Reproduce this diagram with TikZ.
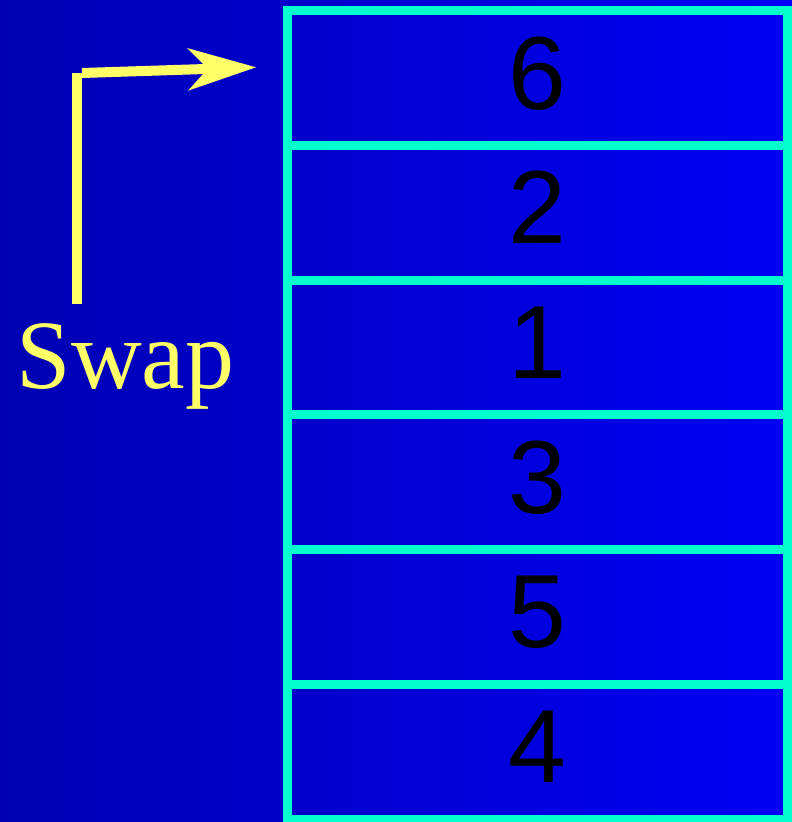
\documentclass[tikz,border=0pt]{standalone}
\usepackage{fontspec}
\newfontfamily\armain{Liberation Sans}
\newfontfamily\tmain{Liberation Serif}
\definecolor{bgL}{RGB}{0,0,178}
\definecolor{bgR}{RGB}{0,0,245}
\definecolor{cellline}{RGB}{0,255,204}
\definecolor{swapyellow}{RGB}{255,255,102}
\begin{document}
\begin{tikzpicture}[x=1pt,y=-1pt,
  cell/.style={draw=cellline, line width=9pt, minimum width=500pt, minimum height=134.75pt,
    inner sep=0pt, text depth=10pt, font=\armain\fontsize{104}{104}\selectfont, text=black},
  yline/.style={draw=swapyellow, line width=10pt}]
\shade[left color=bgL, right color=bgR] (0,0) rectangle (792,822);
\useasboundingbox (0,0) rectangle (792,822);
\node[cell] (c6) at (537,77.875) {6};
\node[cell] (c2) at (537,212.625) {2};
\node[cell] (c1) at (537,347.375) {1};
\node[cell] (c3) at (537,482.125) {3};
\node[cell] (c5) at (537,616.875) {5};
\node[cell] (c4) at (537,751.625) {4};
\node[text=swapyellow, font=\tmain\fontsize{98}{98}\selectfont, anchor=base, inner sep=0pt] (swap) at (125.5,388) {Swap};
\coordinate (vb) at (76.7,304);
\coordinate (vt) at (76.7,73);
\coordinate (hl) at (82,73);
\coordinate (hr) at (205,69);
\coordinate (tip) at (256,67.3);
\draw[yline] (vb) -- (vt);
\draw[yline] (hl) -- (hr);
\fill[swapyellow] (tip) -- (187,48) -- (203,64) -- (203,74) -- (188,90.7) -- cycle;
\end{tikzpicture}
\end{document}
